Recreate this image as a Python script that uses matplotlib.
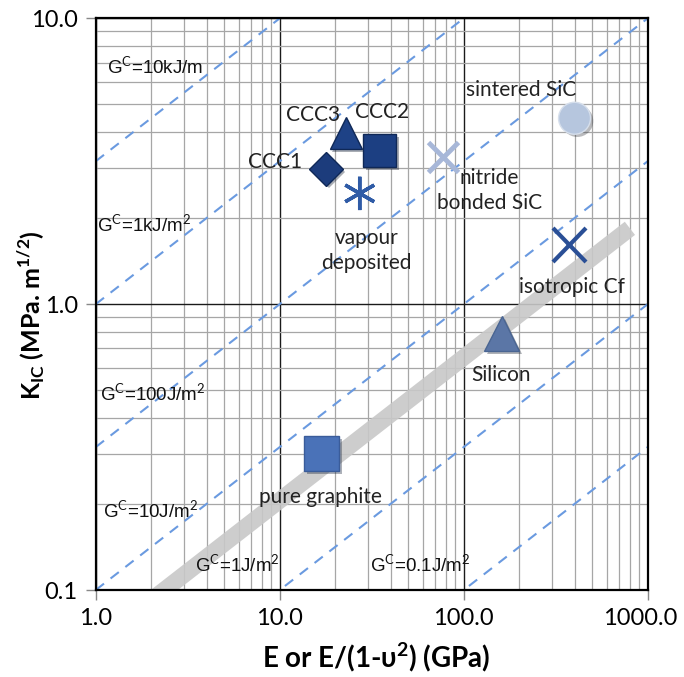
import numpy as np
import matplotlib
matplotlib.use("Agg")
from matplotlib import pyplot as plt
from matplotlib import patheffects as pe
from matplotlib import transforms
from matplotlib.ticker import LogLocator, FixedLocator, NullFormatter

plt.rcParams['font.family'] = ['Lato', 'DejaVu Sans']
plt.rcParams['mathtext.fontset'] = 'custom'
plt.rcParams['mathtext.rm'] = 'Lato'
plt.rcParams['mathtext.bf'] = 'Lato:bold'

# materials: modulus E (GPa) and fracture toughness K_IC (MPa m^1/2)
names = ["CCC1", "CCC3", "CCC2", "vapour deposited", "nitride bonded SiC",
         "sintered SiC", "isotropic Cf", "Silicon", "pure graphite"]
modulus = [17.8, 22.8, 34.9, 27.2, 77.0, 400.0, 377.0, 161.0, 16.9]
toughness = [2.97, 3.96, 3.45, 2.44, 3.27, 4.47, 1.61, 0.79, 0.30]

# constant critical strain energy release rate lines (J/m^2)
g_values = [10000, 1000, 100, 10, 1, 0.1]
g_labels = ["G$^{\\mathrm{C}}$=10kJ/m", "G$^{\\mathrm{C}}$=1kJ/m$^2$",
            "G$^{\\mathrm{C}}$=100J/m$^2$", "G$^{\\mathrm{C}}$=10J/m$^2$",
            "G$^{\\mathrm{C}}$=1J/m$^2$", "G$^{\\mathrm{C}}$=0.1J/m$^2$"]

# grey band of brittle materials
band_g = 4.24
band_e = [1.0, 800.0]

x_ticks = [1, 10, 100, 1000]
x_tick_labels = ["1.0", "10.0", "100.0", "1000.0"]
y_ticks = [0.1, 1, 10]
y_tick_labels = ["0.1", "1.0", "10.0"]

fig = plt.figure(figsize=(6.84, 6.77), dpi=100)
ax = fig.add_axes([0.140, 0.1285, 0.807, 0.8445])
ax.set_xscale("log")
ax.set_yscale("log")
ax.set_xlim(1, 1000)
ax.set_ylim(0.1, 10)


def k_from_g(e, g):
    # K = sqrt(E G), E in GPa, G in J/m^2 -> MPa m^1/2
    return np.sqrt(np.asarray(e) * g * 1e-3)


# grid
ax.xaxis.set_major_locator(FixedLocator(x_ticks))
ax.yaxis.set_major_locator(FixedLocator(y_ticks))
ax.xaxis.set_minor_locator(LogLocator(base=10, subs=np.arange(2, 10)))
ax.yaxis.set_minor_locator(LogLocator(base=10, subs=np.arange(2, 10)))
ax.xaxis.set_minor_formatter(NullFormatter())
ax.yaxis.set_minor_formatter(NullFormatter())
ax.grid(which="minor", color="#a6a6a6", lw=0.9, zorder=0)
ax.grid(which="major", color="#1a1a1a", lw=1.0, zorder=0)
ax.set_axisbelow(True)
ax.tick_params(which="minor", length=0)
ax.tick_params(which="major", length=7, width=1, color="#888888", labelsize=17, pad=6)
ax.set_xticklabels(x_tick_labels)
ax.set_yticklabels(y_tick_labels)
# last x label sits a bit to the left, as in the original
last = ax.get_xticklabels()[-1]
last.set_transform(last.get_transform() +
                   transforms.ScaledTranslation(-8 / 100, 0, fig.dpi_scale_trans))
for s in ax.spines.values():
    s.set_linewidth(1.6)
    s.set_color("black")

# band
ax.plot(band_e, k_from_g(band_e, band_g), color="#c8c8c8", lw=12,
        solid_capstyle="butt", alpha=0.9, zorder=1)

# G lines
e_line = np.logspace(0, 3, 200)
for g in g_values:
    ax.plot(e_line, k_from_g(e_line, g), color="#6a9ae0", lw=1.5,
            ls=(0, (5, 4)), zorder=2)

g_pos = [(1.148, 6.74), (1.01, 1.89), (1.05, 0.484), (1.09, 0.189),
         (3.45, 0.1223), (30.8, 0.1223)]
for lab, (x, y) in zip(g_labels, g_pos):
    ax.text(x, y, lab, fontsize=13.5, family=["Liberation Sans", "DejaVu Sans"],
            ha="left", va="center", color="#111111", zorder=5)

# markers
style = {
    "CCC1": dict(marker="D", ms=17, mfc="#1c3c7c", mec="#0f2857", mew=1),
    "CCC3": dict(marker="^", ms=23, mfc="#1e4286", mec="#0f2857", mew=1),
    "CCC2": dict(marker="s", ms=24, mfc="#1c3f82", mec="#0f2857", mew=1),
    "vapour deposited": dict(marker=(6, 2, 0), ms=24, mec="#2f5ba6", mew=2.5),
    "nitride bonded SiC": dict(marker="x", ms=22, mec="#a7b7d8", mew=3.5),
    "sintered SiC": dict(marker="o", ms=23, mfc="#b6c6de", mec="#d6dfec", mew=1),
    "isotropic Cf": dict(marker="x", ms=24, mec="#2a4f96", mew=3),
    "Silicon": dict(marker="^", ms=25, mfc="#5b76a6", mec="#4a6592", mew=1),
    "pure graphite": dict(marker="s", ms=25, mfc="#4a72b8", mec="#3a5c9a", mew=1),
}
shadow = [pe.SimplePatchShadow(offset=(2, -2), alpha=0.35), pe.Normal()]
for n, e, k in zip(names, modulus, toughness):
    ax.plot([e], [k], ls="none", zorder=4, path_effects=shadow, **style[n])

label_pos = {
    "CCC1": (13.2, 3.14, "right"),
    "CCC3": (21.2, 4.58, "right"),
    "CCC2": (25.6, 4.69, "left"),
    "vapour deposited": (29.7, 1.545, "center"),
    "nitride bonded SiC": (138, 2.49, "center"),
    "sintered SiC": (204, 5.6, "center"),
    "isotropic Cf": (386, 1.147, "center"),
    "Silicon": (159, 0.565, "center"),
    "pure graphite": (16.7, 0.211, "center"),
}
label_text = {
    "vapour deposited": "vapour\ndeposited",
    "nitride bonded SiC": "nitride\nbonded SiC",
}
for n in names:
    x, y, ha = label_pos[n]
    ax.text(x, y, label_text.get(n, n), fontsize=15, ha=ha, va="center",
            multialignment="center", linespacing=1.3, color="#222222", zorder=6)

ax.set_xlabel("E or E/(1-υ$^{\\mathbf{2}}$) (GPa)", fontsize=20, fontweight="bold")
ax.xaxis.set_label_coords(0.509, -0.087)
ax.set_ylabel("K$_{\\mathbf{IC}}$ (MPa. m$^{\\mathbf{1/2}}$)", fontsize=18,
              fontweight="bold")
ax.yaxis.set_label_coords(-0.089, 0.48)

fig.savefig("out.png", dpi=100)
